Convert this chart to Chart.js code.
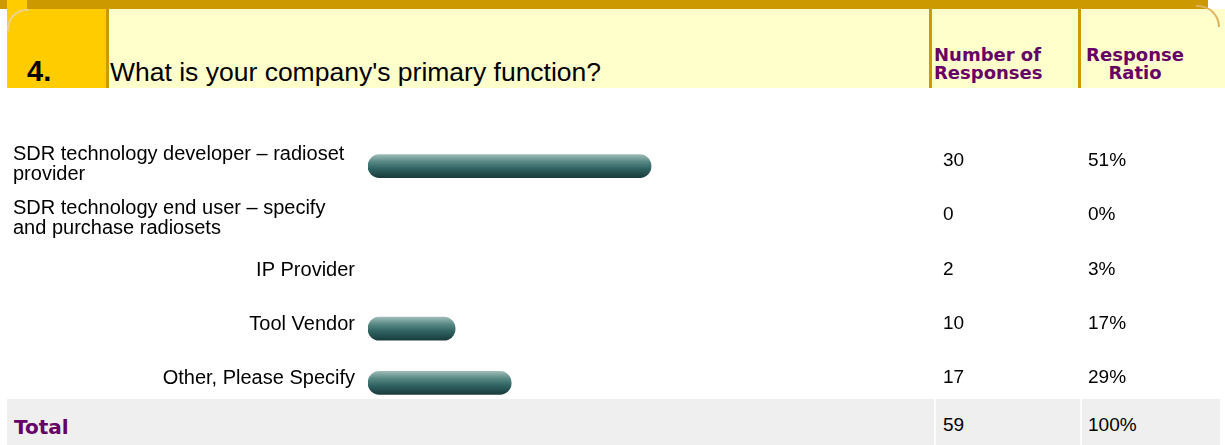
<!DOCTYPE html>
<html>
<head>
<meta charset="utf-8">
<script src="https://cdn.jsdelivr.net/npm/chart.js@4"></script>
<style>
  html, body { margin: 0; padding: 0; background: #fff; }
  body {
    width: 1225px; height: 445px; position: relative; overflow: hidden;
    font-family: "Liberation Sans", Arial, sans-serif;
  }
  .abs { position: absolute; white-space: nowrap; }
  #band { left: 0; top: 0; width: 1208px; height: 9px; background: #cc9900; }
  #band-start { left: 7px; top: 0; width: 20px; height: 9px; background: #ffcc00; }
  #num-cell { left: 7px; top: 9px; width: 99px; height: 79px; background: #ffcc00; }
  #corner-left {
    left: 7px; top: 9px; width: 20px; height: 20px;
    border-top: 2px solid #ecd38c; border-left: 2px solid #ecd38c;
    border-top-left-radius: 20px;
  }
  #gold-line { left: 106px; top: 9px; width: 3px; height: 79px; background: #cc9900; }
  #cream { left: 109px; top: 9px; width: 1116px; height: 79px; background: #ffffcc; }
  #corner-right {
    left: 1196px; top: 5px; width: 22px; height: 20px;
    border-top: 2px solid #dcb35a; border-right: 2px solid #dcb35a;
    border-top-right-radius: 22px;
  }
  .sep { top: 9px; width: 3px; height: 79px; background: #cc9900; }
  #num {
    left: 27px; top: 57px; font-size: 29px; line-height: 29px; font-weight: bold; color: #000;
  }
  #question { left: 110px; top: 58.5px; font-size: 26.5px; line-height: 26.5px; color: #000; }
  .col-head {
    top: 46px; font-family: "DejaVu Sans", sans-serif; font-weight: bold;
    font-size: 18px; line-height: 17.5px; color: #660066;
  }
  #chart-box { left: 0; top: 90px; width: 1225px; height: 355px; }
  #total-row { left: 7px; top: 399px; width: 1213px; height: 46px; background: #efefef; z-index: 2; }
  .total-sep { top: 0; width: 2px; height: 46px; background: #fff; }
  #total-label {
    left: 7px; top: 18px; font-family: "DejaVu Sans", sans-serif; font-weight: bold;
    font-size: 20px; line-height: 20px; color: #660066;
  }
  .total-num { top: 16px; font-size: 19px; line-height: 19px; color: #000; }
</style>
</head>
<body>
<div class="abs" id="band"></div>
<div class="abs" id="band-start"></div>
<div class="abs" id="num-cell"></div>
<div class="abs" id="corner-left"></div>
<div class="abs" id="gold-line"></div>
<div class="abs" id="cream"></div>
<div class="abs" id="corner-right"></div>
<div class="abs sep" style="left:929px"></div>
<div class="abs sep" style="left:1078px"></div>
<div class="abs" id="num">4.</div>
<div class="abs" id="question">What is your company's primary function?</div>
<div class="abs col-head" style="left:934px">Number of<br>Responses</div>
<div class="abs col-head" style="left:1085px; width:100px; text-align:center">Response<br>Ratio</div>

<div class="abs" id="chart-box"><canvas id="chart" width="1225" height="355"></canvas></div>

<div class="abs" id="total-row">
  <div class="abs total-sep" style="left:927px"></div>
  <div class="abs total-sep" style="left:1073px"></div>
  <div class="abs" id="total-label">Total</div>
  <div class="abs total-num" id="total-count" style="left:936px"></div>
  <div class="abs total-num" id="total-ratio" style="left:1081px"></div>
</div>

<script>
// answer labels, one entry per row (arrays are wrapped lines)
const categories = [
  ["SDR technology developer – radioset", "provider"],
  ["SDR technology end user – specify", "and purchase radiosets"],
  "IP Provider",
  "Tool Vendor",
  "Other, Please Specify",
];
const responseCounts = [30, 0, 2, 10, 17];
const responseRatios = ["51%", "0%", "3%", "17%", "29%"];
// bar lengths as drawn in the picture, on the response-ratio scale (null = no bar shown)
const barLengths = [51, null, null, 15.7, 25.8];
const totalCount = 59;
const totalRatio = "100%";

document.getElementById("total-count").textContent = totalCount;
document.getElementById("total-ratio").textContent = totalRatio;

function barFill(context) {
  const chart = context.chart;
  const y = chart.scales.y;
  if (!y || context.dataIndex === undefined) return "#2f6261";
  const mid = y.getPixelForValue(context.dataIndex);
  if (!isFinite(mid)) return "#2f6261";
  const g = chart.ctx.createLinearGradient(0, mid - 11.5, 0, mid + 11.5);
  g.addColorStop(0, "#9dbab7");
  g.addColorStop(0.3, "#5a8a85");
  g.addColorStop(0.6, "#306463");
  g.addColorStop(1, "#1a3b3c");
  return g;
}

const rowText = {
  id: "rowText",
  afterDraw(chart) {
    const c = chart.ctx;
    const y = chart.scales.y;
    c.save();
    c.font = '20px "Liberation Sans", Arial, sans-serif';
    c.fillStyle = "#000";
    c.textBaseline = "alphabetic";
    categories.forEach((label, i) => {
      const mid = y.getPixelForValue(i);
      if (Array.isArray(label)) {
        c.textAlign = "left";
        label.forEach((line, k) => c.fillText(line, 13, mid - 6 + k * 20));
      } else {
        c.textAlign = "right";
        c.fillText(label, 355, mid + 1);
      }
      c.font = '19px "Liberation Sans", Arial, sans-serif';
      c.textAlign = "left";
      c.fillText(String(responseCounts[i]), 943, mid);
      c.fillText(responseRatios[i], 1088, mid);
      c.font = '20px "Liberation Sans", Arial, sans-serif';
    });
    c.restore();
  },
};

const chart = new Chart(document.getElementById("chart"), {
  type: "bar",
  data: {
    labels: categories,
    datasets: [
      {
        data: barLengths,
        backgroundColor: barFill,
        borderRadius: 12,
        borderSkipped: false,
        barThickness: 23,
      },
    ],
  },
  options: {
    indexAxis: "y",
    responsive: false,
    animation: false,
    devicePixelRatio: 1,
    layout: { padding: { left: 368, right: 302, top: 49, bottom: 35 } },
    scales: {
      x: { display: false, min: 0, max: 100 },
      y: { display: false },
    },
    plugins: {
      legend: { display: false },
      tooltip: { enabled: false },
    },
  },
  plugins: [rowText],
});
// second pass so the bar gradients can use the laid-out scale
chart.update();
</script>
</body>
</html>
